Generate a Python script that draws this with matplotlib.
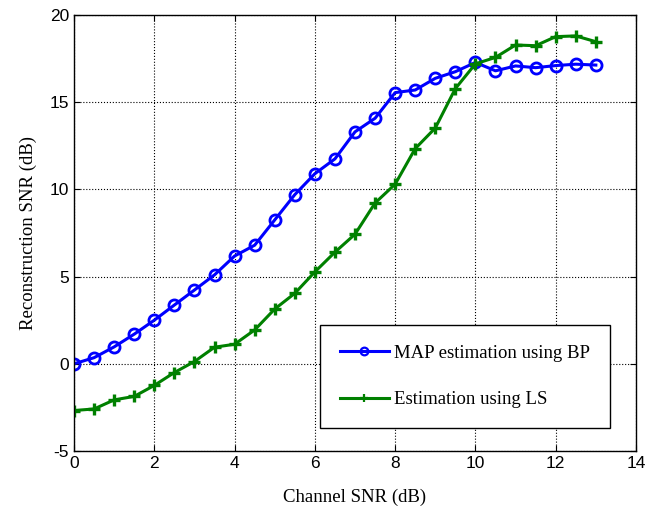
import numpy as np
import matplotlib
matplotlib.use('Agg')
import matplotlib.pyplot as plt

plt.rcParams['axes.unicode_minus'] = False

# channel SNR sweep (dB)
snr = [0, 0.5, 1, 1.5, 2, 2.5, 3, 3.5, 4, 4.5, 5, 5.5, 6, 6.5,
       7, 7.5, 8, 8.5, 9, 9.5, 10, 10.5, 11, 11.5, 12, 12.5, 13]

# reconstruction SNR, MAP estimation using BP
map_bp = [0.0, 0.35, 0.97, 1.7, 2.5, 3.37, 4.23, 5.1, 6.18, 6.8, 8.25, 9.7, 10.9, 11.75,
          13.3, 14.08, 15.55, 15.7, 16.37, 16.75, 17.28, 16.8, 17.08, 16.98, 17.1, 17.18, 17.13]

# reconstruction SNR, estimation using LS
ls_est = [-2.68, -2.59, -2.07, -1.87, -1.24, -0.5, 0.13, 0.95, 1.12, 1.94, 3.14, 4.04, 5.27, 6.4,
          7.43, 9.22, 10.3, 12.34, 13.52, 15.78, 17.2, 17.57, 18.28, 18.24, 18.76, 18.8, 18.47]

serif = ['Liberation Serif', 'DejaVu Serif']
sans = ['Liberation Sans', 'DejaVu Sans']

fig = plt.figure(figsize=(6.46, 5.07), dpi=100)
ax = fig.add_axes([0.1146, 0.1105, 0.8699, 0.8599])

ax.plot(snr, map_bp, color='#0000ff', linewidth=2.2, marker='o', markersize=8,
        markerfacecolor='none', markeredgewidth=2, label='MAP estimation using BP')
ax.plot(snr, ls_est, color='#008000', linewidth=2.2, marker='+', markersize=8,
        markeredgewidth=2.4, label='Estimation using LS')

ax.set_xlim(0, 14)
ax.set_ylim(-5, 20)
ax.set_xticks(np.arange(0, 15, 2))
ax.set_yticks(np.arange(-5, 21, 5))
ax.grid(True, linestyle=':', color='black', linewidth=0.8)
ax.tick_params(direction='in', length=4, top=True, right=True, labelsize=12.5)
for lab in ax.get_xticklabels() + ax.get_yticklabels():
    lab.set_family(sans)
for s in ax.spines.values():
    s.set_linewidth(1.0)

ax.set_xlabel('Channel SNR (dB)', family=serif, fontsize=13.5, labelpad=13)
ax.set_ylabel('Reconstruction SNR (dB)', family=serif, fontsize=13.5, labelpad=9)

leg = ax.legend(loc='lower right', bbox_to_anchor=(0.954, 0.053), borderaxespad=0,
                numpoints=1, prop={'family': serif, 'size': 13.5}, fancybox=False,
                framealpha=1, edgecolor='black', borderpad=1.05, labelspacing=1.55,
                handlelength=2.6, handletextpad=0.3)
leg.get_frame().set_linewidth(1.0)
for h in leg.legend_handles:
    h.set_markersize(5.5)
    h.set_markeredgewidth(1.6)

fig.savefig('out.png', dpi=100)
